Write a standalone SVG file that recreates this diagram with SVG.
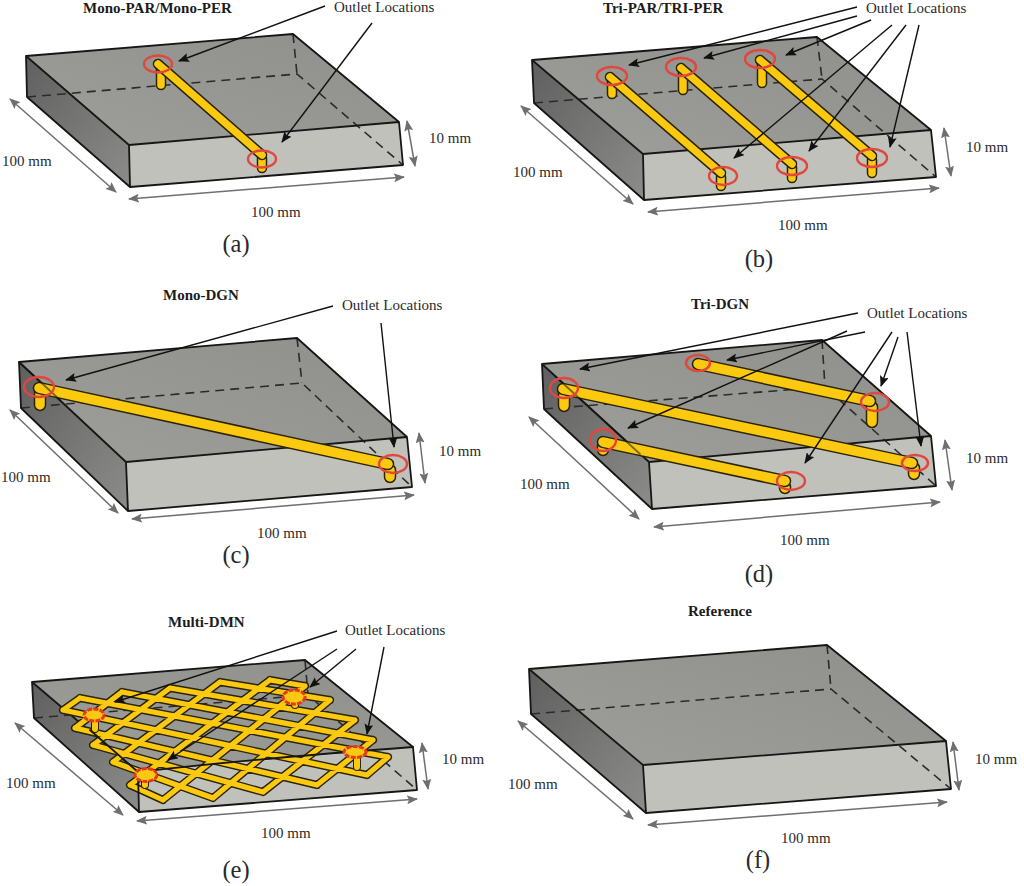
<svg xmlns="http://www.w3.org/2000/svg" width="1024" height="886" viewBox="0 0 1024 886">
<style>
text{font-family:"Liberation Serif","Times New Roman",serif;fill:#2a2a2a;font-size:15px}
.t{font-weight:bold;font-size:15px;fill:#1c1c1c}
.c{font-size:24.5px;text-anchor:middle}
.top{fill:url(#tg)}
.left{fill:url(#lg)}
.front{fill:#c1c1bb}
.e{fill:none;stroke:#161616;stroke-width:1.8;stroke-linejoin:round;stroke-linecap:round}
.h{fill:none;stroke:#2b2b2b;stroke-width:1.6;stroke-dasharray:9 6}
.pd{fill:none;stroke:#2a2405;stroke-width:10.5;stroke-linecap:round}
.py{fill:none;stroke:#fbc90f;stroke-width:7.5;stroke-linecap:round}
.wd{stroke-width:12.5}
.wy{stroke-width:9.5}
.md{fill:none;stroke:#2a2405;stroke-width:8;stroke-linecap:round}
.my{fill:none;stroke:#fbc90f;stroke-width:5.2;stroke-linecap:round}
.r{fill:none;stroke:#e2463c;stroke-width:2.4}
.rf{fill:#fbc90f;stroke:#e5391f;stroke-width:3;stroke-dasharray:5 1.2}
.a{fill:none;stroke:#111;stroke-width:1.4;marker-end:url(#ah)}
.d{fill:none;stroke:#6f6f6f;stroke-width:1.5;marker-start:url(#gh);marker-end:url(#gh)}
</style>
<defs>
<linearGradient id="lg" x1="0" y1="0" x2="1" y2="1"><stop offset="0" stop-color="#5f5f5f"/><stop offset="1" stop-color="#8c8c8a"/></linearGradient>
<linearGradient id="tg" x1="1" y1="0" x2="0" y2="1"><stop offset="0" stop-color="#8f8f8b"/><stop offset="1" stop-color="#9e9e9a"/></linearGradient>
<marker id="ah" markerUnits="userSpaceOnUse" markerWidth="11" markerHeight="9" refX="10" refY="4.5" orient="auto"><path d="M0 0L11 4.5L0 9L2 4.5Z" fill="#111"/></marker>
<marker id="gh" markerUnits="userSpaceOnUse" markerWidth="11" markerHeight="9" refX="10" refY="4.5" orient="auto-start-reverse"><path d="M0 0L11 4.5L0 9L2 4.5Z" fill="#6f6f6f"/></marker>
<path id="mesh" d="M130 785L163 800M113 762L213 798M93 745L263 792M75 728L317 785M63 710L367 775M80 698L388 757M122 692L373 740M170 688L355 720M220 682L330 700M270 680L305 686M63 710L80 698M75 728L122 692M93 745L170 688M113 762L220 682M130 785L270 680M163 800L305 686M213 798L330 700M263 792L355 720M317 785L373 740M367 775L388 757"/>
</defs>
<rect width="1024" height="886" fill="#fff"/>

<g id="panel-a">
<path class="top" d="M26 56L293 34L399 122L129 145Z"/>
<path class="left" d="M26 56L129 145L130 187L27 97Z"/>
<path class="front" d="M129 145L399 122L403 165L130 187Z"/>
<path class="h" d="M27 97L297 74L403 165M293 34L297 74"/>
<path class="e" d="M26 56L293 34L399 122L403 165L130 187L27 97ZM26 56L129 145L399 122M129 145L130 187"/>
<path class="pd" d="M161 68V85M262 158V168"/><path class="py" d="M161 68V85M262 158V168"/>
<path class="pd" d="M158 64L262 155"/><path class="py" d="M158 64L262 155"/>
<ellipse class="r" cx="158" cy="64" rx="14" ry="8.5"/><ellipse class="r" cx="262" cy="159" rx="14" ry="8.5"/>
<text class="t" x="83" y="13">Mono-PAR/Mono-PER</text>
<text x="334" y="12">Outlet Locations</text>
<text x="2" y="166">100 mm</text><text x="251" y="217">100 mm</text><text x="429" y="143">10 mm</text>
<text class="c" x="236" y="252">(a)</text>
</g>

<g id="panel-b">
<path class="top" d="M532 60L817 37L931 130L643 154Z"/>
<path class="left" d="M532 60L643 154L644 200L534 103Z"/>
<path class="front" d="M643 154L931 130L936 177L644 200Z"/>
<path class="h" d="M534 103L822 79L936 177M817 37L822 79"/>
<path class="e" d="M532 60L817 37L931 130L936 177L644 200L534 103ZM532 60L643 154L931 130M643 154L644 200"/>
<path class="pd" d="M612 80V94M683 72V90M762 63V83M721 177V186M792 167V178M872 160V173"/><path class="py" d="M612 80V94M683 72V90M762 63V83M721 177V186M792 167V178M872 160V173"/>
<path class="pd" d="M610 77L721 173M681 68L792 164M760 60L872 156"/><path class="py" d="M610 77L721 173M681 68L792 164M760 60L872 156"/>
<ellipse class="r" cx="612" cy="76" rx="15" ry="9"/><ellipse class="r" cx="681" cy="67" rx="15" ry="9"/><ellipse class="r" cx="760" cy="59" rx="15" ry="9"/>
<ellipse class="r" cx="723" cy="176" rx="14" ry="9"/><ellipse class="r" cx="792" cy="166" rx="15" ry="9"/><ellipse class="r" cx="872" cy="158" rx="15" ry="9"/>
<text class="t" x="603" y="13">Tri-PAR/TRI-PER</text>
<text x="866" y="13">Outlet Locations</text>
<text x="513" y="177">100 mm</text><text x="778" y="230">100 mm</text><text x="966" y="152">10 mm</text>
<text class="c" x="759" y="267">(b)</text>
</g>

<g id="panel-c">
<path class="top" d="M19 362L297 338L407 437L126 462Z"/>
<path class="left" d="M19 362L126 462L128 511L21 408Z"/>
<path class="front" d="M126 462L407 437L412 487L128 511Z"/>
<path class="h" d="M21 408L302 383L412 487M297 338L302 383"/>
<path class="e" d="M19 362L297 338L407 437L412 487L128 511L21 408ZM19 362L126 462L407 437M126 462L128 511"/>
<path class="pd wd" d="M40 393V405M390 470V477"/><path class="py wy" d="M40 393V405M390 470V477"/>
<path class="pd wd" d="M39 388L388 464"/><path class="py wy" d="M39 388L388 464"/>
<path class="e" style="opacity:.55" d="M19 362L60 400"/>
<ellipse class="r" cx="39" cy="387" rx="15" ry="10"/><ellipse class="r" cx="393" cy="464" rx="14" ry="9"/>
<text class="t" x="163" y="300">Mono-DGN</text>
<text x="342" y="310">Outlet Locations</text>
<text x="1" y="482">100 mm</text><text x="257" y="538">100 mm</text><text x="439" y="456">10 mm</text>
<text class="c" x="236" y="563">(c)</text>
</g>

<g id="panel-d">
<path class="top" d="M542 364L822 340L931 436L649 462Z"/>
<path class="left" d="M542 364L649 462L652 509L544 409Z"/>
<path class="front" d="M649 462L931 436L936 486L652 509Z"/>
<path class="h" d="M544 409L825 387L936 486M822 340L825 387"/>
<path class="e" d="M542 364L822 340L931 436L936 486L652 509L544 409ZM542 364L649 462L931 436M649 462L652 509"/>
<path class="pd wd" d="M564 393V406M872 407V422M914 468V474M785 487V488M603 447V450"/><path class="py wy" d="M564 393V406M872 407V422M914 468V474M785 487V488M603 447V450"/>
<path class="pd wd" d="M698 364L870 401M563 389L912 463M603 442L785 481"/><path class="py wy" d="M698 364L870 401M563 389L912 463M603 442L785 481"/>
<path class="e" style="opacity:.55" d="M555 376L640 454"/>
<ellipse class="r" cx="698" cy="363" rx="12" ry="8"/><ellipse class="r" cx="875" cy="402" rx="14" ry="9"/><ellipse class="r" cx="564" cy="388" rx="14" ry="10"/>
<ellipse class="r" cx="915" cy="463" rx="13" ry="8"/><ellipse class="r" cx="603" cy="440" rx="13" ry="11"/><ellipse class="r" cx="791" cy="481" rx="14" ry="9"/>
<text class="t" x="691" y="309">Tri-DGN</text>
<text x="867" y="318">Outlet Locations</text>
<text x="520" y="489">100 mm</text><text x="780" y="545">100 mm</text><text x="966" y="463">10 mm</text>
<text class="c" x="759" y="582">(d)</text>
</g>

<g id="panel-e">
<path class="top" d="M32 682L305 660L413 747L138 772Z"/>
<path class="left" d="M32 682L138 772L139 812L34 718Z"/>
<path class="front" d="M138 772L413 747L417 790L139 812Z"/>
<path class="h" d="M34 718L308 695L417 790M305 660L308 695"/>
<path class="e" d="M32 682L305 660L413 747L417 790L139 812L34 718ZM32 682L138 772"/>
<use href="#mesh" class="md"/>
<use href="#mesh" class="my"/>
<path class="pd" style="stroke-width:8" d="M95 717V729M145 775V785M295 697V705M357 753V767"/><path class="py" style="stroke-width:6" d="M95 717V729M145 775V785M295 697V705M357 753V767"/>
<path class="e" d="M90 730L138 772Q240 760 413 747M138 772L139 812"/>
<ellipse class="rf" cx="94" cy="715" rx="10" ry="6"/><ellipse class="rf" cx="146" cy="775" rx="11" ry="6.5"/><ellipse class="rf" cx="294" cy="697" rx="11" ry="7"/><ellipse class="rf" cx="355" cy="752" rx="11" ry="5.5"/>
<text class="t" x="168" y="627">Multi-DMN</text>
<text x="345" y="635">Outlet Locations</text>
<text x="6" y="788">100 mm</text><text x="261" y="838">100 mm</text><text x="442" y="764">10 mm</text>
<text class="c" x="236" y="878">(e)</text>
</g>

<g id="panel-f">
<path class="top" d="M529 669L827 645L946 741L643 765Z"/>
<path class="left" d="M529 669L643 765L646 813L531 714Z"/>
<path class="front" d="M643 765L946 741L951 789L646 813Z"/>
<path class="h" d="M531 714L831 689L951 789M827 645L831 689"/>
<path class="e" d="M529 669L827 645L946 741L951 789L646 813L531 714ZM529 669L643 765L946 741M643 765L646 813"/>
<text class="t" x="688" y="616">Reference</text>
<text x="508" y="789">100 mm</text><text x="781" y="843">100 mm</text><text x="975" y="764">10 mm</text>
<text class="c" x="758" y="868">(f)</text>
</g>

<g id="connectors">
<path class="a" d="M325 6L179 61"/><path class="a" d="M372 23L282 142"/>
<path class="d" d="M10 99L116 192"/><path class="d" d="M129 199L404 177"/><path class="d" d="M407 121L415 166"/>

<path class="a" d="M857 7L629 65"/><path class="a" d="M857 16L704 58"/><path class="a" d="M871 20L786 55"/><path class="a" d="M892 25L734 158"/><path class="a" d="M906 25L809 151"/><path class="a" d="M919 25L890 147"/>
<path class="d" d="M521 106L633 204"/><path class="d" d="M648 212L939 188"/><path class="d" d="M944 128L951 176"/>

<path class="a" d="M333 306L66 380"/><path class="a" d="M381 323L394 447"/>
<path class="d" d="M10 410L118 513"/><path class="d" d="M132 519L414 495"/><path class="d" d="M419 433L425 483"/>

<path class="a" d="M858 313L580 369"/><path class="a" d="M865 332L727 360"/><path class="a" d="M847 331L628 428"/><path class="a" d="M892 332L805 463"/><path class="a" d="M898 337L881 386"/><path class="a" d="M907 332L921 446"/>
<path class="d" d="M529 417L639 519"/><path class="d" d="M654 527L940 502"/><path class="d" d="M945 440L952 490"/>

<path class="a" d="M337 631L115 702"/><path class="a" d="M337 649L168 760"/><path class="a" d="M356 649L310 687"/><path class="a" d="M384 647L367 734"/>
<path class="d" d="M15 723L123 815"/><path class="d" d="M137 821L417 799"/><path class="d" d="M422 743L428 789"/>

<path class="d" d="M518 721L633 819"/><path class="d" d="M648 825L947 802"/><path class="d" d="M953 742L959 790"/>
</g>
</svg>
